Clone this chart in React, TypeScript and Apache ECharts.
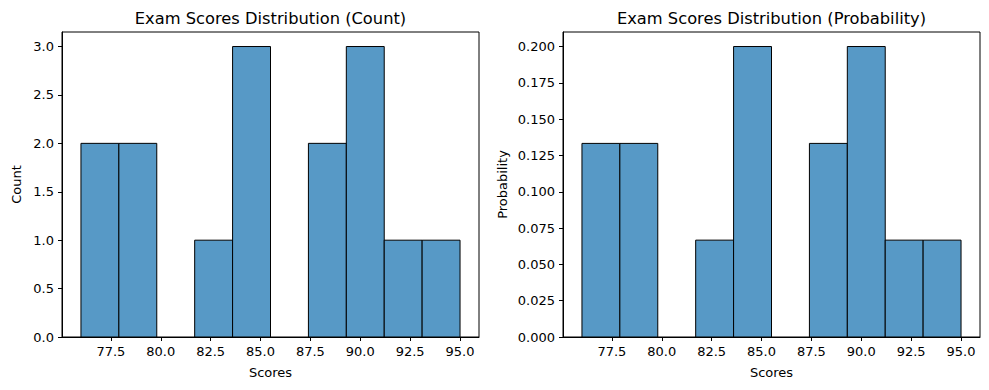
import React, { useEffect, useRef } from "react";
import * as echarts from "echarts";

const binEdges = [76, 77.9, 79.8, 81.7, 83.6, 85.5, 87.4, 89.3, 91.2, 93.1, 95];
const counts = [2, 2, 0, 1, 3, 0, 2, 3, 1, 1];
const probabilities = [0.1333, 0.1333, 0, 0.0667, 0.2, 0, 0.1333, 0.2, 0.0667, 0.0667];
const xTicks = [77.5, 80, 82.5, 85, 87.5, 90, 92.5, 95];
const countTicks = [0, 0.5, 1, 1.5, 2, 2.5, 3];
const probTicks = [0, 0.025, 0.05, 0.075, 0.1, 0.125, 0.15, 0.175, 0.2];

const FONT = "DejaVu Sans";
const BAR = "#5799c6";
const TICK_FS = 13;

function binData(values: number[]) {
  const out: number[][] = [];
  values.forEach((v, i) => {
    if (v > 0) out.push([binEdges[i], binEdges[i + 1], v]);
  });
  return out;
}

const renderItem = (params: any, api: any) => {
  const p0 = api.coord([api.value(0), api.value(2)]);
  const p1 = api.coord([api.value(1), 0]);
  return {
    type: "rect",
    shape: { x: p0[0], y: p0[1], width: p1[0] - p0[0], height: p1[1] - p0[1] },
    style: { fill: BAR, stroke: "#000", lineWidth: 1 },
  };
};

function xAxis(gridIndex: number) {
  return {
    type: "value",
    gridIndex,
    min: 75.05,
    max: 95.95,
    axisLine: { show: true, lineStyle: { color: "#000", width: 1 } },
    axisTick: { show: true, length: 4, customValues: xTicks, lineStyle: { color: "#000" } },
    axisLabel: {
      customValues: xTicks,
      margin: 8,
      color: "#000",
      fontFamily: FONT,
      fontSize: TICK_FS,
      formatter: (v: number) => v.toFixed(1),
    },
    splitLine: { show: false },
  };
}

function yAxis(gridIndex: number, max: number, ticks: number[], digits: number) {
  return {
    type: "value",
    gridIndex,
    min: 0,
    max,
    axisLine: { show: true, lineStyle: { color: "#000", width: 1 } },
    axisTick: { show: true, length: 4, customValues: ticks, lineStyle: { color: "#000" } },
    axisLabel: {
      customValues: ticks,
      margin: 8,
      color: "#000",
      fontFamily: FONT,
      fontSize: TICK_FS,
      formatter: (v: number) => v.toFixed(digits),
    },
    splitLine: { show: false },
  };
}

export default function App() {
  const ref = useRef<HTMLDivElement>(null);
  useEffect(() => {
    if (!ref.current) return;
    const chart = echarts.init(ref.current, null, { renderer: "svg" });
    const textStyle = { fill: "#000", fontFamily: FONT };
    chart.setOption({
      animation: false,
      backgroundColor: "#fff",
      grid: [
        { left: 62, top: 32, width: 417, height: 305, show: true, borderColor: "#000", borderWidth: 1, backgroundColor: "transparent" },
        { left: 563, top: 32, width: 417, height: 305, show: true, borderColor: "#000", borderWidth: 1, backgroundColor: "transparent" },
      ],
      xAxis: [xAxis(0), xAxis(1)],
      yAxis: [yAxis(0, 3.15, countTicks, 1), yAxis(1, 0.21, probTicks, 3)],
      series: [
        { type: "custom", xAxisIndex: 0, yAxisIndex: 0, renderItem, data: binData(counts) },
        { type: "custom", xAxisIndex: 1, yAxisIndex: 1, renderItem, data: binData(probabilities) },
      ],
      graphic: [
        { type: "text", x: 270.5, y: 18.5, style: { ...textStyle, text: "Exam Scores Distribution (Count)", fontSize: 16.3, align: "center", verticalAlign: "middle" } },
        { type: "text", x: 771.5, y: 18.5, style: { ...textStyle, text: "Exam Scores Distribution (Probability)", fontSize: 16.3, align: "center", verticalAlign: "middle" } },
        { type: "text", x: 270.5, y: 372, style: { ...textStyle, text: "Scores", fontSize: TICK_FS, align: "center", verticalAlign: "middle" } },
        { type: "text", x: 771.5, y: 372, style: { ...textStyle, text: "Scores", fontSize: TICK_FS, align: "center", verticalAlign: "middle" } },
        { type: "text", x: 16, y: 184.5, rotation: Math.PI / 2, style: { ...textStyle, text: "Count", fontSize: TICK_FS, align: "center", verticalAlign: "middle" } },
        { type: "text", x: 502, y: 184.5, rotation: Math.PI / 2, style: { ...textStyle, text: "Probability", fontSize: TICK_FS, align: "center", verticalAlign: "middle" } },
      ],
    });
    return () => chart.dispose();
  }, []);
  return <div ref={ref} style={{ width: 989, height: 390, position: "fixed", left: 0, top: 0 }} />;
}
